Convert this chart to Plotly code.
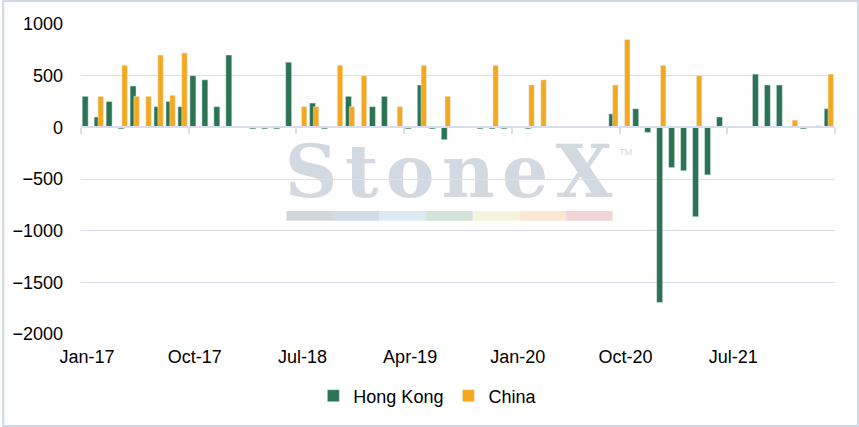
import numpy as np
import plotly.graph_objects as go

# Monthly flows, Jan-17 .. Mar-22 (None = no bar)
months = ["Jan-17", "Feb-17", "Mar-17", "Apr-17", "May-17", "Jun-17", "Jul-17", "Aug-17", "Sep-17",
          "Oct-17", "Nov-17", "Dec-17", "Jan-18", "Feb-18", "Mar-18", "Apr-18", "May-18", "Jun-18",
          "Jul-18", "Aug-18", "Sep-18", "Oct-18", "Nov-18", "Dec-18", "Jan-19", "Feb-19", "Mar-19",
          "Apr-19", "May-19", "Jun-19", "Jul-19", "Aug-19", "Sep-19", "Oct-19", "Nov-19", "Dec-19",
          "Jan-20", "Feb-20", "Mar-20", "Apr-20", "May-20", "Jun-20", "Jul-20", "Aug-20", "Sep-20",
          "Oct-20", "Nov-20", "Dec-20", "Jan-21", "Feb-21", "Mar-21", "Apr-21", "May-21", "Jun-21",
          "Jul-21", "Aug-21", "Sep-21", "Oct-21", "Nov-21", "Dec-21", "Jan-22", "Feb-22", "Mar-22"]

hong_kong = [300, 100, 250, -15, 400, None, 200, 250, 200,
             500, 460, 200, 700, None, -15, -15, -15, 630,
             None, 235, -15, None, 300, None, 200, 300, None,
             -15, 410, -15, -120, None, None, -15, -15, -15,
             None, -15, None, None, None, None, None, None, 130,
             None, 180, -50, -1695, -390, -420, -865, -460, 100,
             None, None, 515, 410, 410, None, -15, None, 180]

china = [None, 300, None, 600, 300, 300, 700, 310, 720,
         None, None, None, None, None, None, None, None, None,
         200, 200, None, 600, 200, 500, None, None, 200,
         None, 600, None, 300, None, None, None, 600, None,
         None, 410, 460, None, None, None, None, None, 410,
         850, None, None, 600, None, None, 500, None, 10,
         None, None, None, None, None, 70, None, 15, 515]

tick_labels = ["Jan-17", "Oct-17", "Jul-18", "Apr-19", "Jan-20", "Oct-20", "Jul-21"]

x = np.arange(len(months))
tick_edges = list(range(0, len(months) + 1, 9))       # tick marks on the zero line
label_pos = [i + 0.5 for i in range(0, len(months), 9)]  # labels sit mid-month

GREEN = "#2A7453"
ORANGE = "#F5A81C"
GRID = "#D9DEEF"
FONT = "Liberation Sans, Arial, sans-serif"

fig = go.Figure()
fig.add_trace(go.Bar(x=x, y=hong_kong, name="Hong Kong", marker_color=GREEN,
                     offset=0.1, width=0.5, customdata=months,
                     hovertemplate="%{customdata}: %{y}<extra>Hong Kong</extra>"))
fig.add_trace(go.Bar(x=x, y=china, name="China", marker_color=ORANGE,
                     offset=0.42, width=0.45, customdata=months,
                     hovertemplate="%{customdata}: %{y}<extra>China</extra>"))
# invisible trace so the zero-line axis gets drawn
fig.add_trace(go.Scatter(x=[0], y=[0], xaxis="x2", mode="markers",
                         marker_opacity=0, showlegend=False, hoverinfo="skip"))

# StoneX watermark (drawn below grid)
fig.add_shape(type="rect", xref="paper", yref="paper", x0=0.2725, x1=0.7024, y0=0.44, y1=0.64,
              layer="below", line_width=0, fillcolor="rgba(0,0,0,0)",
              label=dict(text="<b>S\u200at\u200ao\u200an\u200ae\u200aX</b>",
                         font=dict(family="DejaVu Serif", size=73, color="#D3D9E0"),
                         textposition="middle center"))
fig.add_shape(type="rect", xref="paper", yref="paper", x0=0.71, x1=0.735, y0=0.56, y1=0.62,
              layer="below", line_width=0, fillcolor="rgba(0,0,0,0)",
              label=dict(text="TM", font=dict(family=FONT, size=9, color="#D3D9E0"),
                         textposition="middle center"))
strip = ["#D3D6DC", "#D1DCE6", "#DDEAF4", "#D3E2DB", "#F7F3DC", "#F9E8D4", "#F2D5D6"]
seg = 46.7 / 756
for k, c in enumerate(strip):
    fig.add_shape(type="rect", xref="paper", yref="paper",
                  x0=0.2725 + k * seg, x1=0.2725 + (k + 1) * seg, y0=0.365, y1=0.397,
                  layer="below", line_width=0, fillcolor=c)

# outer border
fig.add_shape(type="rect", xref="paper", yref="paper",
              x0=-0.1032, x1=1.0304, y0=-0.2968, y1=1.0742,
              line=dict(color="#D0D7E8", width=2), fillcolor="rgba(0,0,0,0)")

fig.update_layout(
    width=859, height=427,
    margin=dict(l=79, r=24, t=24, b=93),
    barmode="overlay",
    plot_bgcolor="white", paper_bgcolor="white",
    font=dict(family=FONT, size=18, color="#000000"),
    showlegend=True,
    legend=dict(orientation="h", x=0.46, xanchor="center", y=-0.2, yanchor="middle",
                font=dict(size=18), itemclick=False),
    xaxis=dict(range=[0, len(months)], tickvals=label_pos, ticktext=tick_labels,
               showgrid=False, zeroline=False, showline=False, ticks="",
               ticklabelstandoff=10),
    xaxis2=dict(range=[0, len(months)], overlaying="x", anchor="free", position=2 / 3,
                side="bottom", tickvals=tick_edges, showticklabels=False,
                ticks="outside", ticklen=6, tickcolor=GRID, tickwidth=1.5,
                showline=True, linecolor=GRID, linewidth=1.5, showgrid=False, zeroline=False),
    yaxis=dict(range=[-2000, 1000], dtick=500, showgrid=True, gridcolor=GRID, gridwidth=1.3,
               zeroline=False, showline=False, ticks="", ticklabelstandoff=17),
)

fig.write_html("out.html", config={"displayModeBar": False},
               post_script="document.body.style.margin='0';")
